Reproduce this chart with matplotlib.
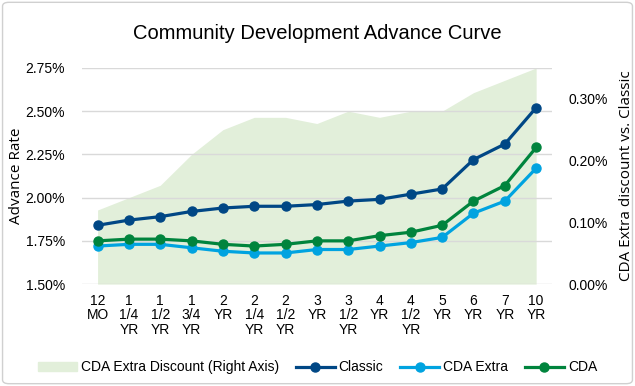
import numpy as np
import matplotlib
matplotlib.use("Agg")
import matplotlib.pyplot as plt
from matplotlib.patches import Patch, FancyBboxPatch
from matplotlib.lines import Line2D
from matplotlib.ticker import FuncFormatter

terms = ["12\nMO", "1\n1/4\nYR", "1\n1/2\nYR", "1\n3/4\nYR", "2\nYR", "2\n1/4\nYR",
         "2\n1/2\nYR", "3\nYR", "3\n1/2\nYR", "4\nYR", "4\n1/2\nYR", "5\nYR",
         "6\nYR", "7\nYR", "10\nYR"]
classic = [1.84, 1.87, 1.89, 1.92, 1.94, 1.95, 1.95, 1.96, 1.98, 1.99, 2.02, 2.05, 2.22, 2.31, 2.52]
cda_extra = [1.72, 1.73, 1.73, 1.71, 1.69, 1.68, 1.68, 1.70, 1.70, 1.72, 1.74, 1.77, 1.91, 1.98, 2.17]
cda = [1.75, 1.76, 1.76, 1.75, 1.73, 1.72, 1.73, 1.75, 1.75, 1.78, 1.80, 1.84, 1.98, 2.07, 2.29]
discount = [0.12, 0.14, 0.16, 0.21, 0.25, 0.27, 0.27, 0.26, 0.28, 0.27, 0.28, 0.28, 0.31, 0.33, 0.35]

c_classic = "#004785"
c_extra = "#00a3e0"
c_cda = "#00843d"
c_area = "#e2efda"
tick_font = "Liberation Sans"

fig = plt.figure(figsize=(6.35, 3.86), dpi=100)
fig.patches.append(FancyBboxPatch((0.004, 0.006), 0.992, 0.988, boxstyle="round,pad=0,rounding_size=0.01",
                                  transform=fig.transFigure, fill=False, edgecolor="#d0d0d0", linewidth=1))

ax = fig.add_axes([0.129, 0.264, 0.740, 0.560])
ax2 = ax.twinx()
x = np.arange(len(terms))

# discount area on the right axis
ax2.fill_between(x, 0, discount, color=c_area, linewidth=0, zorder=1)
ax2.set_ylim(0, 0.35)
ax2.set_yticks([0, 0.1, 0.2, 0.3])
ax2.yaxis.set_major_formatter(FuncFormatter(lambda v, p: f"{v:.2f}%"))
ax2.set_ylabel("CDA Extra discount vs. Classic", fontsize=11, family="Open Sans", labelpad=8)

# rate lines on the left axis, drawn above the area
ax.set_zorder(ax2.get_zorder() + 1)
ax.patch.set_visible(False)
for ys, col in [(classic, c_classic), (cda_extra, c_extra), (cda, c_cda)]:
    ax.plot(x, ys, color=col, linewidth=2.3, marker="o", markersize=6.5, zorder=3)

ax.set_ylim(1.5, 2.75)
ax.set_yticks([1.5, 1.75, 2.0, 2.25, 2.5, 2.75])
ax.yaxis.set_major_formatter(FuncFormatter(lambda v, p: f"{v:.2f}%"))
ax.set_xlim(-0.5, len(terms) - 0.5)
ax.set_xticks(x)
ax.set_xticklabels(terms, fontsize=10, family=tick_font, linespacing=1.05)
ax.set_ylabel("Advance Rate", fontsize=11, family="Open Sans", labelpad=1)
ax.grid(axis="y", color="#d9d9d9", linewidth=1)
ax.set_axisbelow(False)

for a in (ax, ax2):
    for s in a.spines.values():
        s.set_visible(False)
    a.tick_params(length=0, labelsize=10)
    for lab in a.get_yticklabels():
        lab.set_family(tick_font)
ax.tick_params(axis="x", pad=7)
ax.tick_params(axis="y", pad=12)
ax2.tick_params(axis="y", pad=12)

ax.set_title("Community Development Advance Curve", fontsize=14.5, family=tick_font, pad=21)

handles = [Patch(color=c_area, label="CDA Extra Discount (Right Axis)"),
           Line2D([], [], color=c_classic, lw=2.3, marker="o", ms=6.5, label="Classic"),
           Line2D([], [], color=c_extra, lw=2.3, marker="o", ms=6.5, label="CDA Extra"),
           Line2D([], [], color=c_cda, lw=2.3, marker="o", ms=6.5, label="CDA")]
fig.legend(handles=handles, loc="center", bbox_to_anchor=(0.5, 0.048), ncol=4, frameon=False,
           prop={"family": tick_font, "size": 10}, handlelength=2.8, columnspacing=1.2, handletextpad=0.3)

fig.savefig("out.png", dpi=100)
